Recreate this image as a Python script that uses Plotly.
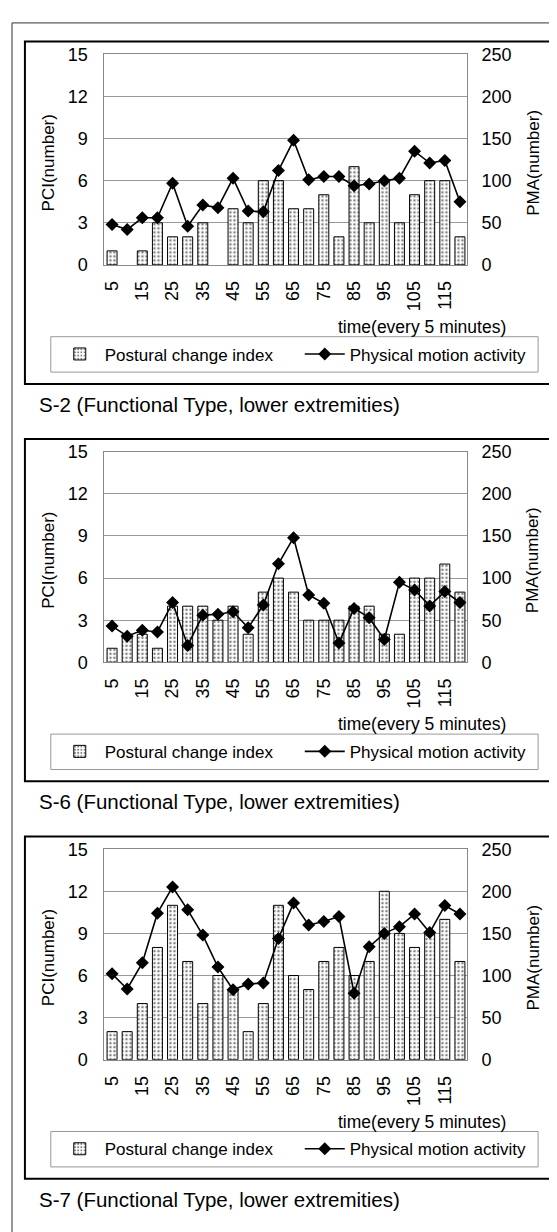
import plotly.graph_objects as go

# page is 557x1232; the html body adds an 8px margin, so the figure is drawn from (8, 8)
OFF = 8
W, H = 557 - OFF, 1232 - OFF

times = list(range(5, 121, 5))
tick_vals = list(range(5, 120, 10))
tick_text = [str(v) for v in tick_vals]

pci_s2 = [1, 0, 1, 3, 2, 2, 3, 0, 4, 3, 6, 6, 4, 4, 5, 2, 7, 3, 6, 3, 5, 6, 6, 2]
pma_s2 = [48, 42, 56, 56, 97, 46, 71, 68, 103, 64, 63, 112, 148, 101, 105, 105, 94, 96, 100, 103, 135, 121, 124, 75]

pci_s6 = [1, 2, 2, 1, 4, 4, 4, 3, 4, 2, 5, 6, 5, 3, 3, 3, 4, 4, 2, 2, 6, 6, 7, 5]
pma_s6 = [43, 31, 38, 36, 71, 20, 56, 57, 60, 41, 68, 117, 148, 80, 70, 23, 64, 53, 27, 95, 86, 67, 84, 71]

pci_s7 = [2, 2, 4, 8, 11, 7, 4, 6, 5, 2, 4, 11, 6, 5, 7, 8, 6, 7, 12, 9, 8, 9, 10, 7]
pma_s7 = [102, 84, 115, 174, 205, 178, 148, 110, 83, 90, 91, 144, 186, 160, 164, 170, 79, 134, 150, 158, 173, 151, 183, 173]

captions = ["S-2 (Functional Type, lower extremities)",
            "S-6 (Functional Type, lower extremities)",
            "S-7 (Functional Type, lower extremities)"]
panels = [(pci_s2, pma_s2), (pci_s6, pma_s6), (pci_s7, pma_s7)]

FONT = "Liberation Sans, Arial, sans-serif"
NARROW = "Liberation Sans Narrow, Arial Narrow, Liberation Sans, Arial, sans-serif"
PERIOD = 404


def px(x):
    return (x - OFF) / W


def py(y):
    return 1 - (y - OFF) / H


fig = go.Figure()
layout = dict(
    width=W, height=H, margin=dict(l=0, r=0, t=0, b=0),
    paper_bgcolor="white", plot_bgcolor="white",
    font=dict(family=FONT, size=16, color="black"),
    bargap=0.34, showlegend=True,
)
shapes = [dict(type="rect", xref="paper", yref="paper",
               x0=px(9), x1=px(575), y0=py(13), y1=py(1260),
               line=dict(color="#333", width=1), fillcolor="rgba(0,0,0,0)")]
annotations = []

for k, (pci, pma) in enumerate(panels):
    dy = PERIOD * k
    xi = k + 1
    yl = 2 * k + 1
    yr = 2 * k + 2
    xname = "x" if xi == 1 else f"x{xi}"
    ylname = "y" if yl == 1 else f"y{yl}"
    yrname = f"y{yr}"
    legname = "legend" if k == 0 else f"legend{k + 1}"

    fig.add_trace(go.Bar(
        x=times, y=pci, name="Postural change index",
        xaxis=xname, yaxis=ylname, legend=legname,
        marker=dict(color="white",
                    line=dict(color="black", width=[1 if v > 0 else 0 for v in pci]),
                    pattern=dict(shape=".", fgcolor="black", bgcolor="white",
                                 size=4, solidity=0.3)),
    ))
    fig.add_trace(go.Scatter(
        x=times, y=pma, name="Physical motion activity",
        xaxis=xname, yaxis=yrname, legend=legname,
        mode="lines+markers",
        line=dict(color="black", width=1.6),
        marker=dict(symbol="diamond", size=10, color="black"),
    ))

    ydom = [py(259 + dy), py(45 + dy)]
    xkey = "xaxis" if xi == 1 else f"xaxis{xi}"
    ylkey = "yaxis" if yl == 1 else f"yaxis{yl}"
    yrkey = f"yaxis{yr}"
    layout[xkey] = dict(
        domain=[px(102), px(467)], anchor=ylname, range=[2.5, 122.5],
        tickvals=tick_vals, ticktext=tick_text, tickangle=-90,
        showgrid=False, zeroline=False, ticks="",
        showline=True, linecolor="#888", linewidth=1, mirror=True,
        ticklabelstandoff=8, tickfont=dict(family=NARROW, size=18),
    )
    layout[ylkey] = dict(
        domain=ydom, anchor=xname, range=[0, 15], tickvals=[0, 3, 6, 9, 12, 15],
        showgrid=True, gridcolor="#999", gridwidth=1, zeroline=False, ticks="",
        showline=True, linecolor="#888", linewidth=1, mirror=True,
        ticklabelstandoff=12, tickfont=dict(family=NARROW, size=18),
    )
    layout[yrkey] = dict(
        overlaying=ylname, anchor=xname, side="right", range=[0, 250],
        tickvals=[0, 50, 100, 150, 200, 250], showgrid=False, zeroline=False,
        ticks="", showline=False, ticklabelstandoff=13,
        tickfont=dict(family=NARROW, size=18),
    )
    layout[legname] = dict(
        orientation="h", x=px(52), xanchor="left",
        y=py(350 + dy), yanchor="middle",
        bgcolor="rgba(0,0,0,0)", borderwidth=0,
        font=dict(size=17), itemwidth=40, entrywidth=190,
    )

    shapes.append(dict(type="rect", xref="paper", yref="paper",
                       x0=px(22), x1=px(555), y0=py(32 + dy), y1=py(380 + dy),
                       line=dict(color="black", width=2), fillcolor="rgba(0,0,0,0)"))
    shapes.append(dict(type="rect", xref="paper", yref="paper",
                       x0=px(48), x1=px(538), y0=py(332 + dy), y1=py(368 + dy),
                       line=dict(color="#999", width=1), fillcolor="rgba(0,0,0,0)"))

    annotations.append(dict(text="PCI(number)", textangle=-90, xref="paper", yref="paper",
                            x=px(46), y=py(155 + dy), showarrow=False,
                            xanchor="center", yanchor="middle", font=dict(size=17)))
    annotations.append(dict(text="PMA(number)", textangle=-90, xref="paper", yref="paper",
                            x=px(533), y=py(155 + dy), showarrow=False,
                            xanchor="center", yanchor="middle", font=dict(size=17)))
    annotations.append(dict(text="time(every 5 minutes)", xref="paper", yref="paper",
                            x=px(508), y=py(322 + dy), showarrow=False,
                            xanchor="right", yanchor="middle", font=dict(size=17.5)))
    annotations.append(dict(text=captions[k], xref="paper", yref="paper",
                            x=px(34), y=py(401 + dy), showarrow=False,
                            xanchor="left", yanchor="middle", font=dict(size=20.5)))

layout["shapes"] = shapes
layout["annotations"] = annotations
fig.update_layout(**layout)

fig.write_html("out.html")
